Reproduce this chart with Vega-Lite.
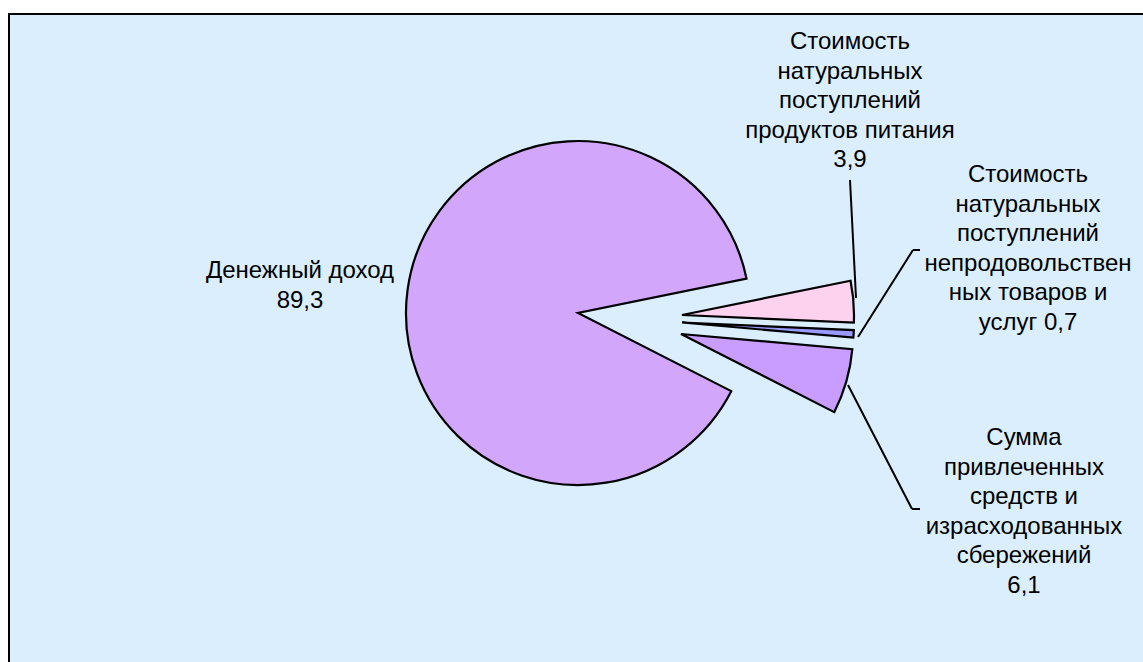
{
  "$schema": "https://vega.github.io/schema/vega-lite/v6.json",
  "width": 1150,
  "height": 660,
  "autosize": {"type": "none"},
  "padding": {"left": 9, "top": 14, "right": -16, "bottom": -12},
  "background": "white",
  "view": {"stroke": "black", "strokeWidth": 2, "fill": "#dbeefe"},
  "config": {
    "view": {"stroke": "black", "strokeWidth": 2, "fill": "#dbeefe"},
    "text": {"font": "Liberation Sans", "fontSize": 24, "lineHeight": 29.5, "color": "black"}
  },
  "data": {
    "values": [
      {"name": "Стоимость натуральных поступлений продуктов питания", "value": 3.9, "label": "Стоимость\nнатуральных\nпоступлений\nпродуктов питания\n3,9"},
      {"name": "Стоимость натуральных поступлений непродовольственных товаров и услуг", "value": 0.7, "label": "Стоимость\nнатуральных\nпоступлений\nнепродовольствен\nных товаров и\nуслуг 0,7"},
      {"name": "Сумма привлеченных средств и израсходованных сбережений", "value": 6.1, "label": "Сумма\nпривлеченных\nсредств и\nизрасходованных\nсбережений\n6,1"},
      {"name": "Денежный доход", "value": 89.3, "label": "Денежный доход\n89,3"}
    ]
  },
  "transform": [
    {"stack": "value", "groupby": [], "as": ["start", "end"]}
  ],
  "encoding": {
    "theta": {"field": "start", "type": "quantitative", "scale": {"domain": [0, 100], "range": [1.37, 7.6532]}},
    "theta2": {"field": "end"}
  },
  "layer": [
    {
      "transform": [{"filter": "datum.value === 89.3"}],
      "mark": {"type": "arc", "radius": 172, "fill": "#d2a6fb", "stroke": "black", "strokeWidth": 2.2, "xOffset": -6, "yOffset": -31}
    },
    {
      "transform": [{"filter": "datum.value === 3.9"}],
      "mark": {"type": "arc", "radius": 172, "fill": "#fcd2ef", "stroke": "black", "strokeWidth": 2.2, "xOffset": 98, "yOffset": -29}
    },
    {
      "transform": [{"filter": "datum.value === 0.7"}],
      "mark": {"type": "arc", "radius": 172, "fill": "#9999ff", "stroke": "black", "strokeWidth": 2.2, "xOffset": 98, "yOffset": -21.5}
    },
    {
      "transform": [{"filter": "datum.value === 6.1"}],
      "mark": {"type": "arc", "radius": 172, "fill": "#c99cff", "stroke": "black", "strokeWidth": 2.2, "xOffset": 97, "yOffset": -10}
    },
    {
      "transform": [{"filter": "datum.value === 89.3"}],
      "mark": {"type": "text", "lineBreak": "\n", "align": "center", "baseline": "middle", "xOffset": -284, "yOffset": -73},
      "encoding": {"text": {"field": "label"}, "theta": null, "theta2": null}
    },
    {
      "transform": [{"filter": "datum.value === 3.9"}],
      "mark": {"type": "text", "lineBreak": "\n", "align": "center", "baseline": "middle", "xOffset": 266, "yOffset": -302},
      "encoding": {"text": {"field": "label"}, "theta": null, "theta2": null}
    },
    {
      "transform": [{"filter": "datum.value === 0.7"}],
      "mark": {"type": "text", "lineBreak": "\n", "align": "center", "baseline": "middle", "xOffset": 444, "yOffset": -169},
      "encoding": {"text": {"field": "label"}, "theta": null, "theta2": null}
    },
    {
      "transform": [{"filter": "datum.value === 6.1"}],
      "mark": {"type": "text", "lineBreak": "\n", "align": "center", "baseline": "middle", "xOffset": 440, "yOffset": 94},
      "encoding": {"text": {"field": "label"}, "theta": null, "theta2": null}
    },
    {
      "data": {"values": [{"segment": "a"}]},
      "transform": [],
      "mark": {"type": "rule", "stroke": "black", "strokeWidth": 2},
      "encoding": {"theta": null, "theta2": null, "x": {"value": 841}, "y": {"value": 166}, "x2": {"value": 847}, "y2": {"value": 284}}
    },
    {
      "data": {"values": [{"segment": "b"}]},
      "transform": [],
      "mark": {"type": "rule", "stroke": "black", "strokeWidth": 2},
      "encoding": {"theta": null, "theta2": null, "x": {"value": 911}, "y": {"value": 236}, "x2": {"value": 904}, "y2": {"value": 236}}
    },
    {
      "data": {"values": [{"segment": "c"}]},
      "transform": [],
      "mark": {"type": "rule", "stroke": "black", "strokeWidth": 2},
      "encoding": {"theta": null, "theta2": null, "x": {"value": 904}, "y": {"value": 236}, "x2": {"value": 849}, "y2": {"value": 323}}
    },
    {
      "data": {"values": [{"segment": "d"}]},
      "transform": [],
      "mark": {"type": "rule", "stroke": "black", "strokeWidth": 2},
      "encoding": {"theta": null, "theta2": null, "x": {"value": 839}, "y": {"value": 371}, "x2": {"value": 903}, "y2": {"value": 495}}
    },
    {
      "data": {"values": [{"segment": "e"}]},
      "transform": [],
      "mark": {"type": "rule", "stroke": "black", "strokeWidth": 2},
      "encoding": {"theta": null, "theta2": null, "x": {"value": 903}, "y": {"value": 495}, "x2": {"value": 911}, "y2": {"value": 495}}
    }
  ]
}
